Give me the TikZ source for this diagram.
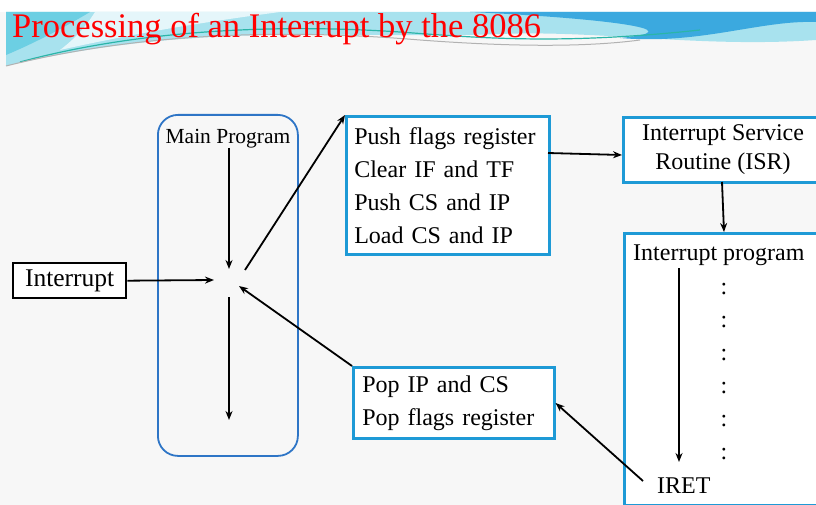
\documentclass[tikz,border=0pt]{standalone}
\usepackage{fontspec}
\setmainfont{Liberation Serif}
\usetikzlibrary{arrows.meta}
\definecolor{boxblue}{HTML}{1E9AD6}
\definecolor{mpblue}{HTML}{2E75C6}
\definecolor{bgray}{HTML}{F7F7F7}
\definecolor{swlight}{HTML}{A8E2EE}
\definecolor{swcyan}{HTML}{6CCFE3}
\definecolor{swblue}{HTML}{3BA9DF}
\definecolor{swteal}{HTML}{2BB5A8}
\begin{document}
\begin{tikzpicture}[x=1pt,y=-1pt,
  txt/.style={font=\fontsize{24}{33}\selectfont, inner sep=0pt},
  bluebox/.style={draw=boxblue, line width=2.6pt, fill=white, inner sep=0pt},
  arr/.style={-{Stealth[length=9pt,width=7pt]}, line width=1.8pt, black}]
\useasboundingbox (0,0) rectangle (816,505);
\fill[bgray] (0,0) rectangle (816,505);
% title band
\fill[white] (0,0) rectangle (816,12);
\fill[swlight] (6,12) -- (816,12) -- (816,40) .. controls (700,48) and (600,30) .. (500,34)
  .. controls (350,40) and (200,20) .. (6,66) -- cycle;
\fill[swcyan] (6,12) -- (90,12) .. controls (60,30) and (30,45) .. (6,55) -- cycle;
\fill[white!70!swlight] (95,12) -- (280,12) .. controls (220,20) and (150,30) .. (60,50) .. controls (80,35) and (90,20) .. (95,12) -- cycle;
\fill[swblue] (470,12) -- (816,12) -- (816,22) .. controls (760,20) and (700,45) .. (620,38)
  .. controls (700,30) and (600,18) .. (470,12) -- cycle;
\draw[swteal, line width=1.2pt] (20,62) .. controls (120,35) and (250,22) .. (400,32) .. controls (480,38) and (560,45) .. (700,30);
\draw[gray!60, line width=1pt] (6,66) .. controls (150,30) and (300,30) .. (420,40) .. controls (500,46) and (580,48) .. (640,40);
\node[anchor=base west, text=red, font=\fontsize{34.5}{34.5}\selectfont, inner sep=0pt] (title) at (12,38) {Processing of an Interrupt by the 8086};
% main program
\node[draw=mpblue, line width=1.8pt, rounded corners=20pt, minimum width=140pt, minimum height=341pt, anchor=north west, inner sep=0pt] (main) at (157,114) {};
\node[font=\fontsize{21.5}{21.5}\selectfont, inner sep=0pt] (mainlbl) at (228,139) {Main Program};
\coordinate (mtop) at (229,148);
\coordinate (mup) at (229,269);
\coordinate (mdown) at (229,297);
\coordinate (mbot) at (229,420);
\coordinate (cin) at (214,280);
\coordinate (cout) at (245,270);
\coordinate (cret) at (239,286);
\draw[arr] (mtop) -- (mup);
\draw[arr] (mdown) -- (mbot);
% interrupt box
\node[draw=black, line width=2.4pt, fill=white, minimum width=113pt, minimum height=35pt, anchor=north west, inner sep=0pt, font=\fontsize{25.5}{25.5}\selectfont] (intr) at (12,262) {Interrupt};
\draw[arr] (intr.east) -- (cin);
% push box
\node[bluebox, txt, anchor=north west, minimum width=203pt, minimum height=138pt, text width=187pt, align=left] (push) at (345,115) {Push flags register\\Clear IF and TF\\Push CS and IP\\Load CS and IP};
\draw[arr] (cout) -- (push.north west);
% ISR box
\node[bluebox, anchor=north west, minimum width=196pt, minimum height=65pt, inner sep=0pt] (isr) at (622,116) {};
\node[txt, align=center, font=\fontsize{24}{29}\selectfont] (isrlbl) at (723,150) {Interrupt Service\\Routine (ISR)};
\coordinate (pushr) at (548,153);
\draw[arr] (pushr) -- (isr.west |- 0,155);
% interrupt program box
\node[bluebox, anchor=north west, minimum width=196pt, minimum height=272pt] (iprog) at (623,232) {};
\coordinate (isrb) at (722,182);
\draw[arr] (isrb) -- (iprog.north -| 724,0);
\node[txt, anchor=base west] (iplbl) at (633,260) {Interrupt program};
\foreach \y [count=\i] in {289,322,355,388,421,454} {
  \node[txt] (dot\i) at (724,\y) {:};
}
\node[txt, anchor=base west] (iret) at (657,493) {IRET};
\coordinate (ptop) at (679,268);
\coordinate (pbot) at (679,462);
\draw[arr] (ptop) -- (pbot);
% pop box
\node[bluebox, txt, anchor=north west, minimum width=201pt, minimum height=71pt, text width=183pt, align=left] (pop) at (352,366) {Pop IP and CS\\Pop flags register};
\coordinate (iretl) at (643,481);
\draw[arr] (iretl) -- (pop.east |- 0,403);
\draw[arr] (pop.north west) -- (cret);
\end{tikzpicture}
\end{document}
